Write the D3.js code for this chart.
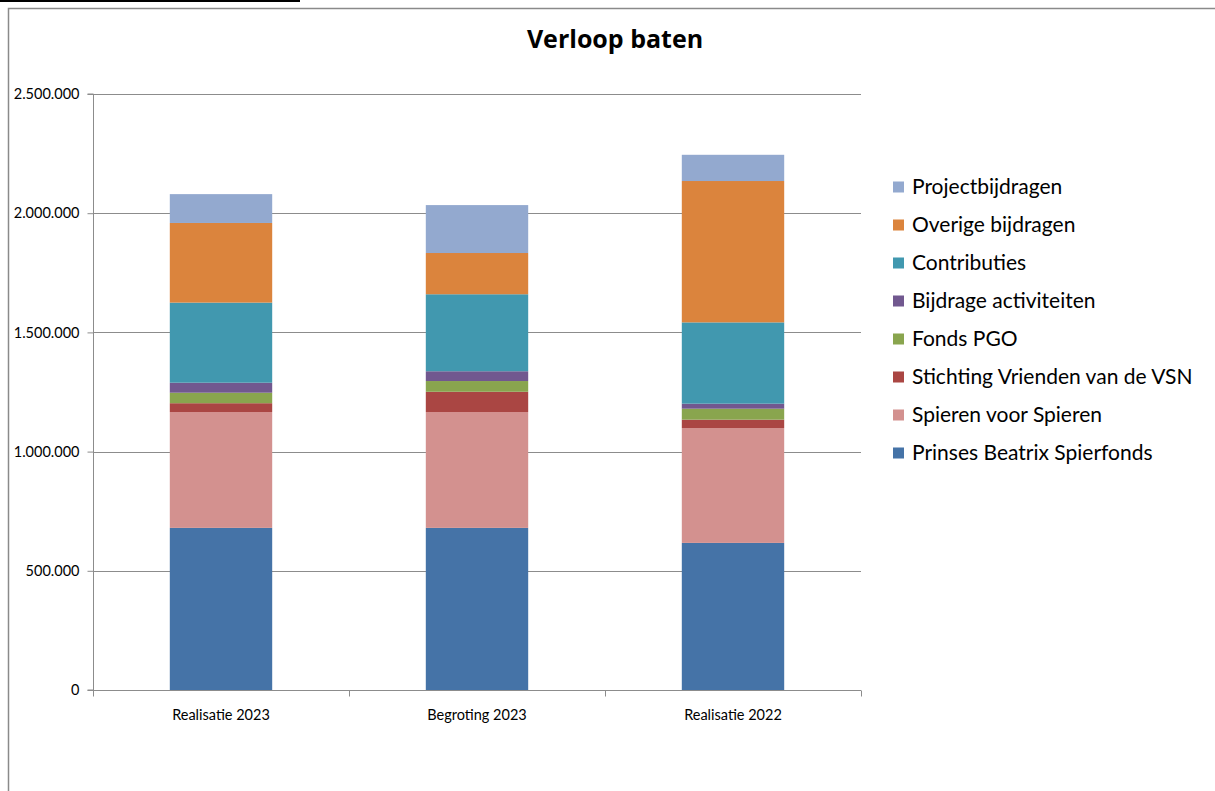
<!DOCTYPE html>
<html><head><meta charset="utf-8">
<script src="https://cdn.jsdelivr.net/npm/d3@7"></script>
<style>body{margin:0;background:#fff;}svg{display:block;}</style>
</head><body>
<svg id="c" width="1215" height="791"></svg>
<script>
const categories = ["Realisatie 2023", "Begroting 2023", "Realisatie 2022"];
const seriesNames = ["Prinses Beatrix Spierfonds","Spieren voor Spieren","Stichting Vrienden van de VSN","Fonds PGO","Bijdrage activiteiten","Contributies","Overige bijdragen","Projectbijdragen"];
const prinsesBeatrix = [680000, 680000, 617000];
const spierenVoorSpieren = [486000, 486000, 482000];
const stichtingVrienden = [37000, 85000, 35000];
const fondsPGO = [44000, 45000, 46000];
const bijdrageActiviteiten = [42000, 41000, 21000];
const contributies = [336000, 323000, 341000];
const overigeBijdragen = [334000, 173000, 593000];
const projectbijdragen = [121000, 201000, 110000];
const yTicks = [0, 500000, 1000000, 1500000, 2000000, 2500000];
const colors = ["#4573A7","#D3918F","#AA4643","#89A54E","#71588F","#4198AF","#DB843D","#93A9CF"];

(function(){
const seriesValues = [prinsesBeatrix, spierenVoorSpieren, stichtingVrienden, fondsPGO, bijdrageActiviteiten, contributies, overigeBijdragen, projectbijdragen];
const rows = categories.map((c, i) => {
  const r = {cat: c};
  seriesNames.forEach((s, j) => r[s] = seriesValues[j][i]);
  return r;
});

const svg = d3.select("#c");
const font = "Lato, 'Open Sans', sans-serif";

// frame
svg.append("line").attr("x1",0).attr("x2",300).attr("y1",1).attr("y2",1).attr("stroke","#000").attr("stroke-width",2);
svg.append("path").attr("d","M8.5,800 V8.5 H1215").attr("fill","none").attr("stroke","#8a8a8a").attr("stroke-width",1.5);

const pl = 93, pr = 861, pt = 94, pb = 690;
const x = d3.scaleBand().domain(categories).range([pl, pr]).paddingInner(0.6).paddingOuter(0.3);
const y = d3.scaleLinear().domain([0, 2500000]).range([pb, pt]);

// gridlines
svg.append("g").selectAll("line").data(yTicks.filter(d => d > 0)).join("line")
  .attr("x1", pl).attr("x2", pr).attr("y1", d => Math.round(y(d)) + 0.5).attr("y2", d => Math.round(y(d)) + 0.5)
  .attr("stroke", "#8c8c8c").attr("stroke-width", 1);

// bars
const stack = d3.stack().keys(seriesNames)(rows);
svg.append("g").selectAll("g").data(stack).join("g")
  .attr("fill", (d, i) => colors[i])
  .selectAll("rect").data(d => d).join("rect")
  .attr("x", d => x(d.data.cat)).attr("width", x.bandwidth())
  .attr("y", d => y(d[1])).attr("height", d => y(d[0]) - y(d[1]));

// y axis
const ya = svg.append("g").attr("transform", `translate(${pl + 0.5},0)`)
  .call(d3.axisLeft(y).tickValues(yTicks).tickSize(6).tickPadding(8)
    .tickFormat(d => d3.format(",")(d).replace(/,/g, ".")));
ya.selectAll("path,line").attr("stroke", "#8c8c8c");
ya.select("path").attr("d", `M-6,${pt}H0V${pb}H-6`);
ya.selectAll("text").attr("font-family", font).attr("font-size", 14.5).attr("fill", "#000");

// x axis
const xg = svg.append("g").attr("transform", `translate(0,${pb + 0.5})`);
xg.append("line").attr("x1", pl).attr("x2", pr).attr("stroke", "#8c8c8c");
const step = (pr - pl) / categories.length;
xg.selectAll("line.t").data(d3.range(categories.length + 1)).join("line").attr("class","t")
  .attr("x1", i => pl + i * step + 0.5).attr("x2", i => pl + i * step + 0.5).attr("y1", 0).attr("y2", 6).attr("stroke", "#8c8c8c");
xg.selectAll("text").data(categories).join("text")
  .attr("x", d => x(d) + x.bandwidth() / 2).attr("y", 29).attr("text-anchor", "middle")
  .attr("font-family", font).attr("font-size", 14.5).text(d => d);

// title
svg.append("text").attr("x", 615).attr("y", 48).attr("text-anchor", "middle")
  .attr("font-family", "'Open Sans', sans-serif").attr("font-weight", "bold").attr("font-size", 25).text("Verloop baten");

// legend
const legendOrder = seriesNames.slice().reverse();
const lg = svg.append("g");
legendOrder.forEach((s, i) => {
  const cy = 187 + i * 38;
  lg.append("rect").attr("x", 893).attr("y", cy - 5.5).attr("width", 11).attr("height", 11)
    .attr("fill", colors[seriesNames.indexOf(s)]);
  lg.append("text").attr("x", 912).attr("y", cy + 7).attr("font-family", font).attr("font-size", 21).text(s);
});
})();
</script>
</body></html>
